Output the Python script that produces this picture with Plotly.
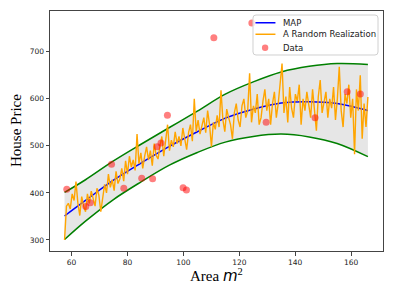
import numpy as np
import plotly.graph_objects as go

# Smooth curves (knots)
curve_x = [57.5, 65, 75, 85, 95, 105, 115, 125, 135, 145, 155, 166]
map_y = [351, 384, 427, 464, 499, 530, 559, 578, 591, 594, 590, 575]
upper_y = [401, 428, 468, 504, 539, 574, 610, 636, 657, 669, 675, 673]
lower_y = [301, 340, 386, 424, 459, 486, 508, 520, 525, 519, 505, 477]

# A random realization
real_y = [
    300, 372, 378, 366, 398, 384, 424, 378, 352, 392,
    372, 360, 398, 378, 404, 386, 372, 410, 395, 360,
    392, 418, 400, 440, 412, 428, 405, 446, 420, 430,
    452, 425, 468, 440, 478, 455, 470, 448, 525, 462,
    485, 452, 478, 498, 470, 490, 458, 505, 480, 472,
    500, 520, 478, 510, 545, 490, 512, 498, 530, 505,
    520, 500, 538, 515, 492, 528, 545, 510, 600, 530,
    555, 525, 540, 560, 528, 575, 545, 498, 550, 535,
    565, 540, 618, 555, 530, 578, 560, 545, 515, 570,
    590, 555, 540, 585, 600, 560, 575, 654, 550, 585,
    570, 610, 545, 560, 595, 620, 575, 600, 545, 590,
    615, 560, 590, 640, 675, 570, 605, 550, 625, 580,
    560, 610, 595, 630, 545, 600, 575, 615, 590, 560,
    620, 580, 532, 605, 640, 570, 595, 615, 560, 600,
    580, 625, 555, 600, 668, 575, 540, 610, 590, 630,
    560, 600, 482, 620, 575, 650, 515, 590, 540, 604,
]
real_x = np.linspace(57.5, 166, len(real_y))

# Observed data
data_x = [58.3, 65.1, 66.7, 74.3, 78.7, 85.1, 89.0, 90.6, 92.0, 94.3,
          99.9, 101.1, 110.9, 124.5, 129.6, 147.1, 158.6, 163.3]
data_y = [408, 371, 379, 461, 410, 431, 430, 498, 506, 565,
          411, 406, 730, 761, 550, 560, 615, 610]

legend_labels = ["MAP", "A Random Realization", "Data"]

fig = go.Figure()
fig.add_trace(go.Scatter(x=curve_x, y=lower_y, mode="lines", line=dict(color="rgba(0,0,0,0)", shape="spline"),
                         showlegend=False, hoverinfo="skip"))
fig.add_trace(go.Scatter(x=curve_x, y=upper_y, mode="lines", line=dict(color="rgba(0,0,0,0)", shape="spline"),
                         fill="tonexty", fillcolor="#e6e6e6", showlegend=False, hoverinfo="skip"))
fig.add_trace(go.Scatter(x=curve_x, y=upper_y, mode="lines", line=dict(color="green", width=1.5, shape="spline"),
                         showlegend=False))
fig.add_trace(go.Scatter(x=curve_x, y=lower_y, mode="lines", line=dict(color="green", width=1.5, shape="spline"),
                         showlegend=False))
fig.add_trace(go.Scatter(x=curve_x, y=map_y, mode="lines", name=legend_labels[0],
                         line=dict(color="blue", width=1.5, shape="spline"), showlegend=False))
fig.add_trace(go.Scatter(x=real_x, y=real_y, mode="lines", name=legend_labels[1],
                         line=dict(color="orange", width=1.4), showlegend=False))
fig.add_trace(go.Scatter(x=data_x, y=data_y, mode="markers", name=legend_labels[2],
                         marker=dict(color="rgba(255,0,0,0.5)", size=7, line=dict(width=0)), showlegend=False))

axis_common = dict(showline=True, mirror=True, linecolor="#444", linewidth=1, ticks="outside",
                   ticklen=3.5, tickcolor="#444", showgrid=False, zeroline=False,
                   tickfont=dict(family="DejaVu Sans", size=7.5, color="#222"))
fig.update_xaxes(range=[52.3, 171.4], tickvals=[60, 80, 100, 120, 140, 160], **axis_common)
fig.update_yaxes(range=[276.6, 786.6], tickvals=[300, 400, 500, 600, 700], **axis_common)

# Manual legend (matplotlib-like compact box)
bx0, bx1, by0, by1 = 0.6096, 0.985, 0.8167, 0.9833
rx, ry = 3 / 333, 3 / 240
box_path = (f"M {bx0+rx},{by0} L {bx1-rx},{by0} Q {bx1},{by0} {bx1},{by0+ry} "
            f"L {bx1},{by1-ry} Q {bx1},{by1} {bx1-rx},{by1} L {bx0+rx},{by1} "
            f"Q {bx0},{by1} {bx0},{by1-ry} L {bx0},{by0+ry} Q {bx0},{by0} {bx0+rx},{by0} Z")
shapes = [dict(type="path", path=box_path, xref="paper", yref="paper", layer="above",
               fillcolor="rgba(255,255,255,0.8)", line=dict(color="#d0d0d0", width=1))]
rows = [0.951, 0.903, 0.847]
lx0, lx1, tx = 0.617, 0.677, 0.693
shapes.append(dict(type="line", xref="paper", yref="paper", x0=lx0, x1=lx1, y0=rows[0], y1=rows[0],
                   layer="above", line=dict(color="blue", width=1.5)))
shapes.append(dict(type="line", xref="paper", yref="paper", x0=lx0, x1=lx1, y0=rows[1], y1=rows[1],
                   layer="above", line=dict(color="orange", width=1.5)))
cx, cy, r = 0.646, rows[2], 3.2
shapes.append(dict(type="circle", xref="paper", yref="paper", x0=cx - r / 333, x1=cx + r / 333,
                   y0=cy - r / 240, y1=cy + r / 240, layer="above",
                   fillcolor="rgba(255,0,0,0.5)", line=dict(width=0)))

annotations = [
    dict(text=lab, xref="paper", yref="paper", x=tx, y=yy, xanchor="left", yanchor="middle",
         showarrow=False, font=dict(family="DejaVu Sans", size=8.5, color="#222"))
    for lab, yy in zip(legend_labels, rows)
]
annotations += [
    dict(text="Area <span style='font-family:DejaVu Sans'><i>m</i></span><sup>2</sup>",
         xref="paper", yref="paper", x=0.5, y=-0.1, xanchor="center", yanchor="middle",
         showarrow=False, font=dict(family="Liberation Serif", size=15, color="black")),
    dict(text="House Price", xref="paper", yref="paper", x=-0.102, y=0.5, textangle=-90,
         xanchor="center", yanchor="middle", showarrow=False,
         font=dict(family="Liberation Serif", size=15, color="black")),
]

# The page body adds an 8px offset, so the figure is sized to fit the 394x296 window.
fig.update_layout(
    width=386, height=288,
    margin=dict(l=42, r=11, t=3, b=45),
    plot_bgcolor="white", paper_bgcolor="white",
    showlegend=False,
    shapes=shapes,
    annotations=annotations,
)

fig.write_html("out.html")
